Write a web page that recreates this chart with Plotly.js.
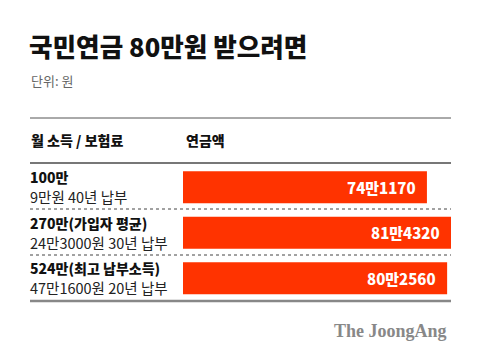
<!DOCTYPE html>
<html>
<head>
<meta charset="utf-8">
<script src="https://cdn.plot.ly/plotly-3.0.1.min.js"></script>
<style>html,body{margin:0;padding:0;background:#fff;}#chart{width:480px;height:358px;}</style>
</head>
<body>
<div id="chart"></div>
<script>
var incomes = ["100만", "270만(가입자 평균)", "524만(최고 납부소득)"];
var premiums = ["9만원 40년 납부", "24만3000원 30년 납부", "47만1600원 20년 납부"];
var pension = [741170, 814320, 802560];
var pensionLabels = ["74만1170", "81만4320", "80만2560"];
var titleText = "국민연금 80만원 받으려면";
var unitText = "단위: 원";
var headerLeft = "월 소득 / 보험료";
var headerRight = "연금액";
var sourceText = "The JoongAng";

var FONT = "'Noto Sans CJK KR', 'Noto Sans', sans-serif";
var W = 480, H = 358;
function px(x){ return x / W; }
function py(y){ return 1 - y / H; }

var idx = pension.map(function(_, i){ return i; });

var trace = {
  type: 'bar',
  orientation: 'h',
  x: pension,
  y: idx,
  width: 0.7,
  marker: {color: '#FF3300', line: {width: 0}},
  hoverinfo: 'none'
};

var annotations = [
  {xref:'paper', yref:'paper', x:px(27), y:py(45), xanchor:'left', yanchor:'middle', showarrow:false,
   text:titleText, font:{family:FONT, size:25.6, color:'#111', weight:900}},
  {xref:'paper', yref:'paper', x:px(29), y:py(80), xanchor:'left', yanchor:'middle', showarrow:false,
   text:unitText, font:{family:FONT, size:13, color:'#666'}},
  {xref:'paper', yref:'paper', x:px(29), y:py(140), xanchor:'left', yanchor:'middle', showarrow:false,
   text:headerLeft, font:{family:FONT, size:14, color:'#111', weight:800}},
  {xref:'paper', yref:'paper', x:px(184), y:py(140), xanchor:'left', yanchor:'middle', showarrow:false,
   text:headerRight, font:{family:FONT, size:14, color:'#111', weight:800}},
  {xref:'paper', yref:'paper', x:px(449), y:py(331), xanchor:'right', yanchor:'middle', showarrow:false,
   text:'<b>'+sourceText+'</b>', font:{family:"'Liberation Serif', 'DejaVu Serif', serif", size:18, color:'#888'}}
];

idx.forEach(function(i){
  annotations.push({xref:'paper', yref:'y', x:px(28), y:i, yshift:10, xanchor:'left', yanchor:'middle', showarrow:false,
    text:incomes[i], font:{family:FONT, size:14, color:'#111', weight:800}});
  annotations.push({xref:'paper', yref:'y', x:px(28), y:i, yshift:-9.5, xanchor:'left', yanchor:'middle', showarrow:false,
    text:premiums[i], font:{family:FONT, size:14.5, color:'#222'}});
  annotations.push({xref:'x', yref:'y', x:pension[i], y:i, xshift:-9, xanchor:'right', yanchor:'middle', showarrow:false,
    text:pensionLabels[i], font:{family:FONT, size:15, color:'#fff', weight:800}});
});

var shapes = [
  {type:'line', xref:'paper', yref:'paper', x0:px(30), x1:px(451), y0:py(118), y1:py(118), line:{color:'#555', width:1}},
  {type:'line', xref:'paper', yref:'paper', x0:px(30), x1:px(451), y0:py(163), y1:py(163), line:{color:'#777', width:2}},
  {type:'line', xref:'paper', yref:'paper', x0:px(30), x1:px(451), y0:py(209), y1:py(209), line:{color:'#444', width:1, dash:'dot'}},
  {type:'line', xref:'paper', yref:'paper', x0:px(30), x1:px(451), y0:py(255), y1:py(255), line:{color:'#444', width:1, dash:'dot'}},
  {type:'line', xref:'paper', yref:'paper', x0:px(30), x1:px(451), y0:py(301), y1:py(301), line:{color:'#888', width:2.5}}
];

var layout = {
  width: W, height: H,
  margin: {l:0, r:0, t:0, b:0, pad:0},
  paper_bgcolor: '#fff', plot_bgcolor: 'rgba(0,0,0,0)',
  showlegend: false,
  xaxis: {domain:[px(183), px(451)], range:[0, 814320], visible:false, fixedrange:true},
  yaxis: {domain:[py(301), py(164.5)], range:[2.5, -0.5], visible:false, fixedrange:true},
  annotations: annotations,
  shapes: shapes
};

Plotly.newPlot('chart', [trace], layout, {displayModeBar:false, staticPlot:true});
</script>
</body>
</html>
